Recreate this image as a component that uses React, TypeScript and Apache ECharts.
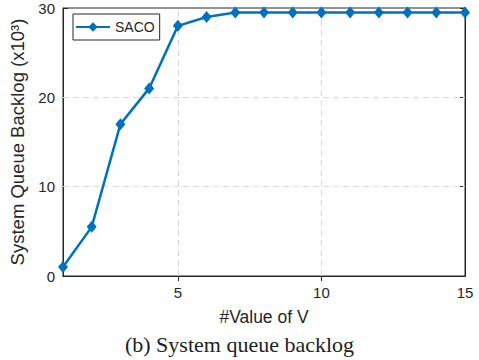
import React, { useEffect, useRef } from "react";
import * as echarts from "echarts";

const vValues = [1, 2, 3, 4, 5, 6, 7, 8, 9, 10, 11, 12, 13, 14, 15];
const sacoBacklog = [1, 5.5, 17, 21, 28, 29, 29.5, 29.5, 29.5, 29.5, 29.5, 29.5, 29.5, 29.5, 29.5];
const xTickValues = [5, 10, 15];
const xInnerTicks = [5, 10];
const yTickValues = [0, 10, 20, 30];
const seriesName = "SACO";
const xLabel = "#Value of V";
const yLabel = "System Queue Backlog (x10³)";
const caption = "(b) System queue backlog";

const AX = "#262626";
const FONT = "'Liberation Sans', Arial, Helvetica, sans-serif";

export default function App() {
  const ref = useRef<HTMLDivElement>(null);
  useEffect(() => {
    document.body.style.margin = "0";
    const chart = echarts.init(ref.current!, null, { renderer: "svg" });
    const option: any = {
      animation: false,
      backgroundColor: "#ffffff",
      textStyle: { fontFamily: FONT },
      grid: {
        left: 63,
        right: 14,
        top: 8,
        bottom: 84,
        show: true,
        borderColor: AX,
        borderWidth: 1,
        backgroundColor: "transparent",
      },
      legend: {
        left: 73,
        top: 14,
        orient: "vertical",
        padding: [6, 5, 6, 2],
        itemWidth: 34,
        itemHeight: 12,
        borderColor: AX,
        borderWidth: 1,
        backgroundColor: "#ffffff",
        textStyle: { fontSize: 14, color: AX, fontFamily: FONT },
        data: [seriesName],
      },
      xAxis: [
        {
          type: "value",
          min: 1,
          max: 15,
          name: xLabel,
          nameLocation: "middle",
          nameGap: 32,
          nameTextStyle: { fontSize: 17.5, color: AX, fontFamily: FONT },
          axisLine: { show: true, lineStyle: { color: AX, width: 1 } },
          axisTick: { show: true, inside: true, length: 5, customValues: xInnerTicks, lineStyle: { color: AX } },
          axisLabel: { show: true, customValues: xTickValues, fontSize: 15, color: AX, margin: 9, fontFamily: FONT },
          splitLine: { show: false },
        },
        {
          type: "value",
          position: "top",
          min: 1,
          max: 15,
          axisLine: { show: true, lineStyle: { color: AX, width: 1 } },
          axisTick: { show: true, inside: true, length: 5, customValues: xInnerTicks, lineStyle: { color: AX } },
          axisLabel: { show: false },
          splitLine: { show: false },
        },
      ],
      yAxis: [
        {
          type: "value",
          min: 0,
          max: 30,
          interval: 10,
          name: yLabel,
          nameLocation: "middle",
          nameRotate: 90,
          nameGap: 24,
          nameTextStyle: { fontSize: 18.5, color: AX, fontFamily: FONT },
          axisLine: { show: true, lineStyle: { color: AX, width: 1 } },
          axisTick: { show: true, inside: true, length: 5, lineStyle: { color: AX } },
          axisLabel: { show: true, customValues: yTickValues, fontSize: 15, color: AX, margin: 8, fontFamily: FONT },
          splitLine: { show: false },
        },
        {
          type: "value",
          position: "right",
          min: 0,
          max: 30,
          interval: 10,
          axisLine: { show: true, lineStyle: { color: AX, width: 1 } },
          axisTick: { show: true, inside: true, length: 5, lineStyle: { color: AX } },
          axisLabel: { show: false },
          splitLine: { show: false },
        },
      ],
      series: [
        {
          name: seriesName,
          type: "line",
          xAxisIndex: 0,
          yAxisIndex: 0,
          data: vValues.map((v, i) => [v, sacoBacklog[i]]),
          symbol: "diamond",
          symbolSize: [10, 12],
          color: "#0072BD",
          lineStyle: { width: 2.5, color: "#0072BD" },
          itemStyle: { color: "#0072BD" },
          z: 5,
          markLine: {
            silent: true,
            symbol: "none",
            label: { show: false },
            lineStyle: { color: "#d9d9d9", type: [6, 4], width: 1 },
            z: 1,
            data: [
              ...xInnerTicks.map((x) => ({ xAxis: x })),
              ...yTickValues.filter((y) => y > 0 && y < 30).map((y) => ({ yAxis: y })),
            ],
          },
        },
      ],
      graphic: [
        {
          type: "text",
          left: "center",
          top: 333,
          style: {
            text: caption,
            fontSize: 22,
            fontFamily: "'Liberation Serif', 'Times New Roman', serif",
            fill: "#222222",
          },
        },
      ],
    };
    chart.setOption(option);
    return () => chart.dispose();
  }, []);
  return <div ref={ref} style={{ width: 479, height: 360 }} />;
}
